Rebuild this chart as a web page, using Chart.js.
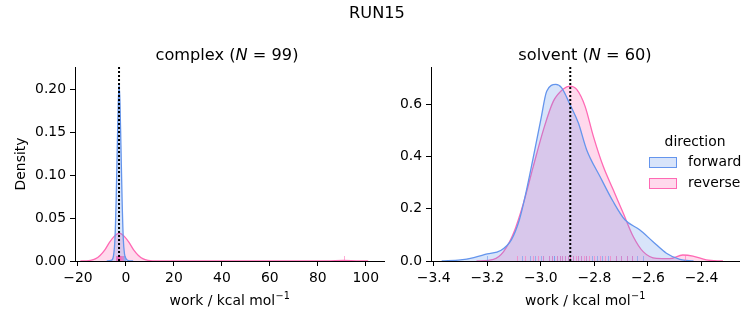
<!DOCTYPE html>
<html>
<head>
<meta charset="utf-8">
<script src="https://cdn.jsdelivr.net/npm/chart.js@4.4.0/dist/chart.umd.min.js"></script>
<style>
    body { margin: 0; background: #fff; font-family: "DejaVu Sans", sans-serif; color: #000; }
    #wrap { position: relative; width: 753px; height: 325px; overflow: hidden; }
    canvas { position: absolute; top: 0; }
    .ttl { position: absolute; font-size: 16.2px; line-height: 20px; white-space: nowrap; transform: translateX(-50%); }
    .leg { position: absolute; font-size: 13.9px; line-height: 16px; white-space: nowrap; }
    .patch { position: absolute; width: 26px; height: 9px; border: 1.5px solid; }
</style>
</head>
<body>
<div id="wrap">
    <canvas id="complexChart" width="400" height="325" style="left:0"></canvas>
    <canvas id="solventChart" width="353" height="325" style="left:400px"></canvas>
    <div class="ttl" style="left:377px; top:3px">RUN15</div>
    <div class="ttl" style="left:227px; top:45px">complex (<i>N</i> = 99)</div>
    <div class="ttl" style="left:585px; top:45px">solvent (<i>N</i> = 60)</div>
    <div class="leg" style="left:695px; top:133px; transform:translateX(-50%)">direction</div>
    <div class="patch" style="left:649px; top:157px; background:rgba(100,149,237,0.25); border-color:#6495ED"></div>
    <div class="leg" style="left:688px; top:153px">forward</div>
    <div class="patch" style="left:649px; top:178px; background:rgba(255,105,180,0.25); border-color:#FF69B4"></div>
    <div class="leg" style="left:688px; top:174px">reverse</div>
</div>
<script>
// ---- data ----
const directions = ['forward', 'reverse'];
const freeEnergy = -2.89;

// complex: KDE curves
const complexForwardX = [-8, -6, -5.2, -4.6, -4.1, -3.6, -3.2, -2.85, -2.5, -2.1, -1.6, -1.1, -0.6, 0, 1, 3];
const complexForwardY = [0, 0.001, 0.006, 0.025, 0.07, 0.135, 0.185, 0.205, 0.185, 0.135, 0.07, 0.025, 0.008, 0.003, 0.0005, 0];
const complexReverseX = [-19, -16.8, -14.8, -12.8, -10.8, -8.8, -6.8, -4.8, -2.8, -0.8, 1.2, 3.2, 5.2, 7.2, 9.2, 11.2, 16, 30, 80, 85, 90.8, 96, 101];
const complexReverseY = [0, 0.0002, 0.0008, 0.0025, 0.0065, 0.013, 0.022, 0.029, 0.0325, 0.029, 0.022, 0.013, 0.0065, 0.0025, 0.0008, 0.0002, 0.00003, 0, 0, 0.0002, 0.0006, 0.0002, 0];
// complex: individual work values (rug)
const complexForwardRug = [-4.1, -3.8, -3.6, -3.5, -3.4, -3.3, -3.2, -3.1, -3.0, -3.0, -2.9, -2.9, -2.8, -2.8, -2.7, -2.7, -2.6, -2.5, -2.4, -2.3, -2.1, -1.8, -1.3, -0.9, -0.5];
const complexReverseRug = [-4.3, -4.0, -3.8, -3.6, -3.4, -3.3, -3.1, -3.0, -2.9, -2.8, -2.7, -2.6, -2.5, -2.3, -2.1, -1.9, -1.6, -1.3, 90.8];

// solvent: KDE curves
const solventForwardX = [-3.37, -3.30, -3.25, -3.20, -3.15, -3.11, -3.08, -3.06, -3.03, -3.00, -2.978, -2.944, -2.922, -2.891, -2.86, -2.829, -2.779, -2.73, -2.686, -2.63, -2.581, -2.531, -2.481, -2.43];
const solventForwardY = [0, 0.004, 0.013, 0.027, 0.040, 0.081, 0.158, 0.241, 0.388, 0.542, 0.651, 0.677, 0.664, 0.600, 0.530, 0.427, 0.324, 0.228, 0.158, 0.119, 0.074, 0.030, 0.006, 0];
const solventReverseX = [-3.24, -3.177, -3.139, -3.102, -3.065, -3.028, -2.99, -2.953, -2.916, -2.891, -2.866, -2.835, -2.804, -2.767, -2.73, -2.692, -2.655, -2.618, -2.568, -2.518, -2.47, -2.432, -2.382, -2.32];
const solventReverseY = [0, 0.006, 0.036, 0.106, 0.221, 0.363, 0.504, 0.613, 0.660, 0.671, 0.658, 0.594, 0.479, 0.363, 0.274, 0.183, 0.094, 0.036, 0.010, 0.009, 0.023, 0.019, 0.004, 0];
// solvent: individual work values (rug)
const solventForwardRug = [-3.20, -3.07, -3.04, -3.02, -3.00, -2.99, -2.97, -2.96, -2.95, -2.95, -2.94, -2.93, -2.92, -2.91, -2.90, -2.89, -2.88, -2.86, -2.85, -2.83, -2.81, -2.79, -2.77, -2.75, -2.72, -2.70, -2.68, -2.66, -2.64, -2.62];
const solventReverseRug = [-3.09, -3.06, -3.03, -3.01, -2.99, -2.97, -2.96, -2.94, -2.93, -2.92, -2.91, -2.90, -2.89, -2.89, -2.88, -2.87, -2.86, -2.85, -2.84, -2.83, -2.82, -2.80, -2.78, -2.76, -2.74, -2.72, -2.70, -2.68, -2.66, -2.46];

// ticks
const complexXTicks = [-20, 0, 20, 40, 60, 80, 100];
const complexYTicks = [0, 0.05, 0.10, 0.15, 0.20];
const solventXTicks = [-3.4, -3.2, -3.0, -2.8, -2.6, -2.4];
const solventYTicks = [0, 0.2, 0.4, 0.6];

const colors = {
    forward: { line: '#6495ED', fill: 'rgba(100,149,237,0.25)', rug: 'rgba(100,149,237,0.55)' },
    reverse: { line: '#FF69B4', fill: 'rgba(255,105,180,0.25)', rug: 'rgba(255,105,180,0.55)' }
};
const FONT = '"DejaVu Sans", sans-serif';
const minus = s => s.replace('-', '\u2212');

function toPoints(xs, ys) {
    return xs.map((x, i) => ({ x: x, y: ys[i] }));
}

// rug ticks, dotted free-energy line and x label with superscript
const rugPlugin = {
    id: 'rugLine',
    afterDatasetsDraw(chart, args, opts) {
        const ctx = chart.ctx;
        const xs = chart.scales.x;
        const area = chart.chartArea;
        ctx.save();
        ctx.beginPath();
        ctx.rect(area.left, area.top, area.right - area.left, area.bottom - area.top);
        ctx.clip();
        opts.rugs.forEach(rug => {
            ctx.strokeStyle = rug.color;
            ctx.lineWidth = 1;
            rug.values.forEach(v => {
                const px = Math.round(xs.getPixelForValue(v)) + 0.5;
                ctx.beginPath();
                ctx.moveTo(px, area.bottom);
                ctx.lineTo(px, area.bottom - 5);
                ctx.stroke();
            });
        });
        const lx = xs.getPixelForValue(opts.line);
        ctx.strokeStyle = '#000';
        ctx.lineWidth = 2;
        ctx.setLineDash([2, 2]);
        ctx.beginPath();
        ctx.moveTo(lx, area.top);
        ctx.lineTo(lx, area.bottom);
        ctx.stroke();
        ctx.restore();
    },
    afterDraw(chart) {
        const ctx = chart.ctx;
        const area = chart.chartArea;
        const main = 'work / kcal mol';
        const sup = '\u22121';
        ctx.save();
        ctx.fillStyle = '#000';
        ctx.textBaseline = 'alphabetic';
        ctx.font = '13.9px ' + FONT;
        const w1 = ctx.measureText(main).width;
        ctx.font = '9.7px ' + FONT;
        const w2 = ctx.measureText(sup).width;
        const x0 = (area.left + area.right) / 2 - (w1 + w2) / 2;
        const base = 305;
        ctx.font = '13.9px ' + FONT;
        ctx.fillText(main, x0, base);
        ctx.font = '9.7px ' + FONT;
        ctx.fillText(sup, x0 + w1 + 0.5, base - 6);
        ctx.restore();
    }
};

function buildChart(canvasId, cfg) {
    const ctx = document.getElementById(canvasId).getContext('2d');
    return new Chart(ctx, {
        type: 'line',
        data: {
            datasets: [
                {
                    label: directions[0],
                    data: toPoints(cfg.fx, cfg.fy),
                    borderColor: colors.forward.line,
                    backgroundColor: colors.forward.fill,
                    fill: 'origin'
                },
                {
                    label: directions[1],
                    data: toPoints(cfg.rx, cfg.ry),
                    borderColor: colors.reverse.line,
                    backgroundColor: colors.reverse.fill,
                    fill: 'origin'
                }
            ]
        },
        options: {
            responsive: false,
            animation: false,
            devicePixelRatio: 1,
            layout: { padding: cfg.padding },
            elements: {
                point: { radius: 0 },
                line: { borderWidth: 1.3, cubicInterpolationMode: 'monotone' }
            },
            scales: {
                x: {
                    type: 'linear',
                    min: cfg.xmin,
                    max: cfg.xmax,
                    afterFit: s => { s.height = 50; },
                    afterBuildTicks: s => { s.ticks = cfg.xticks.map(v => ({ value: v })); },
                    ticks: {
                        color: '#000',
                        padding: 4,
                        maxRotation: 0,
                        autoSkip: false,
                        font: { family: FONT, size: 13.9 },
                        callback: v => minus(cfg.xfmt(v))
                    },
                    grid: { drawOnChartArea: false, drawTicks: true, tickLength: 5, color: '#000', tickWidth: 1 },
                    border: { display: true, color: '#000', width: 1 }
                },
                y: {
                    min: 0,
                    max: cfg.ymax,
                    afterFit: s => { s.width = cfg.yWidth; },
                    afterBuildTicks: s => { s.ticks = cfg.yticks.map(v => ({ value: v })); },
                    ticks: {
                        color: '#000',
                        padding: 4,
                        autoSkip: false,
                        font: { family: FONT, size: 13.9 },
                        callback: v => v.toFixed(cfg.ydec)
                    },
                    grid: { drawOnChartArea: false, drawTicks: true, tickLength: 5, color: '#000', tickWidth: 1 },
                    border: { display: true, color: '#000', width: 1 },
                    title: {
                        display: cfg.yTitle,
                        text: 'Density',
                        color: '#000',
                        font: { family: FONT, size: 13.9 },
                        padding: { top: 13, bottom: 0 }
                    }
                }
            },
            plugins: {
                legend: { display: false },
                tooltip: { enabled: false },
                rugLine: {
                    line: freeEnergy,
                    rugs: [
                        { values: cfg.frug, color: colors.forward.rug },
                        { values: cfg.rrug, color: colors.reverse.rug }
                    ]
                }
            }
        },
        plugins: [rugPlugin]
    });
}

buildChart('complexChart', {
    fx: complexForwardX, fy: complexForwardY,
    rx: complexReverseX, ry: complexReverseY,
    frug: complexForwardRug, rrug: complexReverseRug,
    xmin: -21.25, xmax: 107.6, ymax: 0.226,
    xticks: complexXTicks, yticks: complexYTicks,
    xfmt: v => String(v), ydec: 2,
    yWidth: 75, yTitle: true,
    padding: { left: 0, right: 16, top: 67, bottom: 14 }
});

buildChart('solventChart', {
    fx: solventForwardX, fy: solventForwardY,
    rx: solventReverseX, ry: solventReverseY,
    frug: solventForwardRug, rrug: solventReverseRug,
    xmin: -3.41, xmax: -2.26, ymax: 0.744,
    xticks: solventXTicks, yticks: solventYTicks,
    xfmt: v => v.toFixed(1), ydec: 1,
    yWidth: 31, yTitle: false,
    padding: { left: 0, right: 14, top: 67, bottom: 14 }
});
</script>
</body>
</html>
